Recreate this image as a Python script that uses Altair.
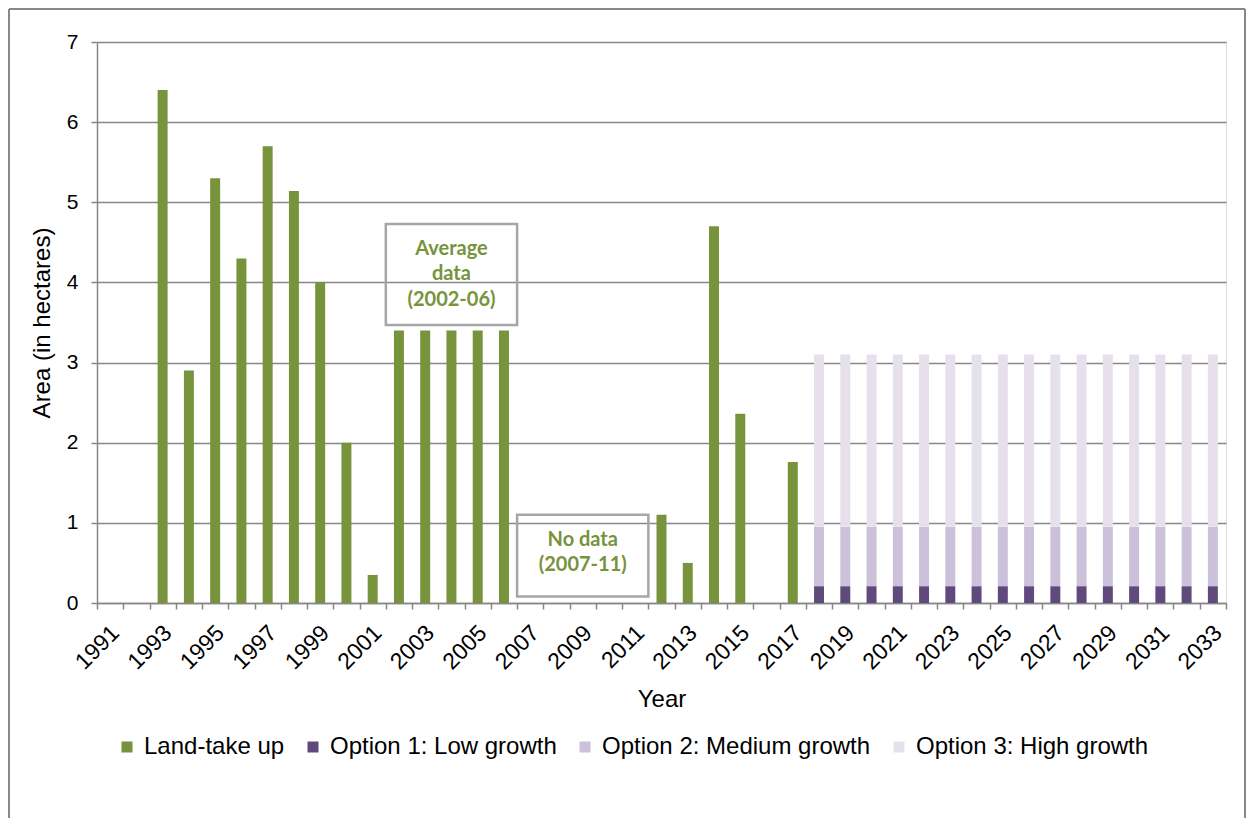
import altair as alt
import pandas as pd

# ---------------- data ----------------
years = [str(y) for y in range(1991, 2034)]

land_years = [1993, 1994, 1995, 1996, 1997, 1998, 1999, 2000, 2001,
              2002, 2003, 2004, 2005, 2006,
              2012, 2013, 2014, 2015, 2017]
land_values = [6.4, 2.9, 5.3, 4.3, 5.7, 5.14, 4.0, 2.0, 0.35,
               3.4, 3.4, 3.4, 3.4, 3.4,
               1.1, 0.5, 4.7, 2.36, 1.76]

proj_years = [2018, 2019, 2020, 2021, 2022, 2023, 2024, 2025,
              2026, 2027, 2028, 2029, 2030, 2031, 2032, 2033]
low_growth = [0.21, 0.21, 0.21, 0.21, 0.21, 0.21, 0.21, 0.21,
              0.21, 0.21, 0.21, 0.21, 0.21, 0.21, 0.21, 0.21]
medium_growth_extra = [0.74, 0.74, 0.74, 0.74, 0.74, 0.74, 0.74, 0.74,
                       0.74, 0.74, 0.74, 0.74, 0.74, 0.74, 0.74, 0.74]
high_growth_extra = [2.15, 2.15, 2.15, 2.15, 2.15, 2.15, 2.15, 2.15,
                     2.15, 2.15, 2.15, 2.15, 2.15, 2.15, 2.15, 2.15]

series_names = ["Land-take up", "Option 1: Low growth",
                "Option 2: Medium growth", "Option 3: High growth"]
series_colors = ["#77933C", "#604A7B", "#CCC1DA", "#E6E0EC"]

# annotation boxes (year ranges and vertical extent)
note_texts = ["Average\ndata\n(2002-06)", "No data\n(2007-11)"]
note_year_from = [2002, 2007]
note_year_to = [2006, 2011]
note_y_low = [3.47, 0.08]
note_y_high = [4.73, 1.10]
note_y_first_line = [4.42, 0.79]

# ---------------- tables ----------------
rows = []
for y, v in zip(land_years, land_values):
    rows.append({"year": str(y), "value": v, "series": series_names[0], "order": 0})
for i, y in enumerate(proj_years):
    rows.append({"year": str(y), "value": low_growth[i], "series": series_names[1], "order": 1})
    rows.append({"year": str(y), "value": medium_growth_extra[i], "series": series_names[2], "order": 2})
    rows.append({"year": str(y), "value": high_growth_extra[i], "series": series_names[3], "order": 3})
df = pd.DataFrame(rows)

notes = pd.DataFrame({
    "text": note_texts,
    "x0": [a - 0.5 for a in note_year_from],
    "x1": [b + 0.5 for b in note_year_to],
    "xc": [(a + b) / 2 for a, b in zip(note_year_from, note_year_to)],
    "y0": note_y_low,
    "y1": note_y_high,
    "yt": note_y_first_line,
})

FONT = "Liberation Sans"
GRAY = "#878787"

yscale = alt.Scale(domain=[0, 7], nice=False)

bars = alt.Chart(df).mark_bar(width=alt.RelativeBandSize(0.38)).encode(
    x=alt.X("year:O",
            scale=alt.Scale(domain=years, paddingInner=0, paddingOuter=0),
            title="Year",
            axis=alt.Axis(
                tickBand="extent",
                labelExpr="toNumber(datum.value) % 2 == 1 ? datum.value : ''",
                labelAngle=-45, labelAlign="right", labelBaseline="middle",
                labelOverlap=False, labelPadding=20, labelOffset=5,
                labelFontSize=23,
                labelFont=FONT, labelColor="black",
                titleFont=FONT, titleFontSize=24, titleFontWeight="normal",
                titleColor="black", titlePadding=14,
                domainColor=GRAY, domainWidth=1.5, tickColor=GRAY,
                tickWidth=1.5, tickSize=6, grid=False)),
    y=alt.Y("value:Q", stack="zero", scale=yscale,
            title="Area (in hectares)",
            axis=alt.Axis(
                values=[0, 1, 2, 3, 4, 5, 6, 7], format="d",
                labelFontSize=21, labelFont=FONT, labelColor="black",
                labelPadding=13,
                titleFont=FONT, titleFontSize=24, titleFontWeight="normal",
                titleColor="black", titlePadding=12,
                domainColor=GRAY, domainWidth=1.5, tickColor=GRAY,
                tickWidth=1.5, tickSize=6,
                grid=True, gridColor=GRAY, gridWidth=1.5)),
    color=alt.Color("series:N",
                    scale=alt.Scale(domain=series_names, range=series_colors),
                    legend=alt.Legend(
                        title=None, orient="none", direction="horizontal",
                        legendX=18, legendY=693,
                        symbolType="square", symbolSize=121,
                        symbolStrokeWidth=0, labelFont=FONT,
                        labelFontSize=24, labelColor="black", labelLimit=500,
                        labelOffset=5, columnPadding=16)),
    order=alt.Order("order:Q"),
)

xq = alt.Scale(domain=[1990.5, 2033.5], nice=False, zero=False)

boxes = alt.Chart(notes).mark_rect(
    fill=None, stroke="#A6A6A6", strokeWidth=2.5
).encode(
    x=alt.X("x0:Q", scale=xq, axis=None),
    x2="x1:Q",
    y=alt.Y("y0:Q", scale=yscale),
    y2="y1:Q",
)

labels = alt.Chart(notes).mark_text(
    font="Lato", fontSize=20, fontWeight="bold", color="#77933C",
    lineBreak="\n", lineHeight=25.5, align="center", baseline="middle"
).encode(
    x=alt.X("xc:Q", scale=xq, axis=None),
    y=alt.Y("yt:Q", scale=yscale),
    text="text:N",
)

FRAME = "#888888"
frame_left = alt.Chart(notes).mark_rule(color=FRAME, strokeWidth=2).encode(
    x=alt.value(-88), y=alt.value(-33), y2=alt.value(776))
frame_top = alt.Chart(notes).mark_rule(color=FRAME, strokeWidth=2).encode(
    x=alt.value(-88), x2=alt.value(1148), y=alt.value(-33))
frame_right = alt.Chart(notes).mark_rule(color=FRAME, strokeWidth=2).encode(
    x=alt.value(1148), y=alt.value(-33), y2=alt.value(776))

chart = alt.layer(bars, boxes, labels, frame_left, frame_top, frame_right).resolve_scale(
    x="independent"
).properties(
    width=1129, height=561, padding=0
).configure_view(stroke=None).configure(background="white")

chart.save("out.html", embed_options={"renderer": "svg", "actions": False})
